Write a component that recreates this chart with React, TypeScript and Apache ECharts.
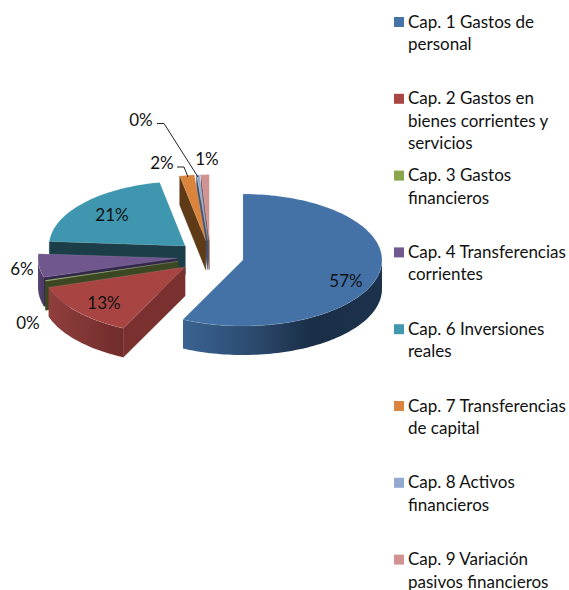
import React, { useEffect, useRef } from "react";
import * as echarts from "echarts";

const categories = [
  "Cap. 1 Gastos de\npersonal",
  "Cap. 2 Gastos en\nbienes corrientes y\nservicios",
  "Cap. 3 Gastos\nfinancieros",
  "Cap. 4 Transferencias\ncorrientes",
  "Cap. 6 Inversiones\nreales",
  "Cap. 7 Transferencias\nde capital",
  "Cap. 8 Activos\nfinancieros",
  "Cap. 9 Variación\npasivos financieros",
];
const shares = [57.1, 13.0, 0.25, 5.75, 20.9, 1.7, 0.35, 0.95];

const topColors = ["#4472a7", "#a84543", "#89a54e", "#70588f", "#3f97af", "#db843d", "#93a9cf", "#d19392"];
const legendColors = ["#4572a7", "#aa4643", "#89a54e", "#71588f", "#4198af", "#db843d", "#93a9cf", "#d19392"];
const wallColors = ["#1b2f47", "#7a302f", "#3c4822", "#33274a", "#1b3e49", "#5e3a17", "#46536e", "#7a5554"];
const sideStops: [number, string][][] = [
  [[0, "#3a6492"], [0.35, "#2c4a6e"], [0.65, "#1a2e46"], [1, "#1c324c"]],
  [[0, "#8f3f3d"], [1, "#702c2b"]],
  [[0, "#4c5c2a"], [1, "#3c4822"]],
  [[0, "#5a4676"], [1, "#46355f"]],
  [[0, "#1b3e49"], [1, "#1b3e49"]],
  [[0, "#5e3a17"], [1, "#5e3a17"]],
  [[0, "#46536e"], [1, "#46536e"]],
  [[0, "#7a5554"], [1, "#7a5554"]],
];
// perspective makes near slices look slightly larger than far ones
const radiusScale = [1, 1.03, 1, 1, 0.98, 1, 1, 1];
const labelSpots: [number, number][] = [
  [346, 280], [104, 302], [28, 322], [22, 268], [112, 214], [162, 162], [141, 119], [207, 158],
];
const leaders: Record<number, [number, number][]> = {
  5: [[177, 167], [184, 167], [188, 177]],
  6: [[157, 123.5], [164, 123.5], [198, 177]],
};

const CX = 210.3, CY = 256.5, RX = 139, RY = 66, DEPTH = 29, EXPLODE = 0.241;
const FONT = "Lato, Carlito, sans-serif";
const rad = (d: number) => (d * Math.PI) / 180;

const total = shares.reduce((a, b) => a + b, 0);
const startAngles: number[] = [];
shares.reduce((acc, v, i) => {
  startAngles[i] = acc;
  return acc + (v / total) * 360;
}, 0);

function arcPoints(ax: number, ay: number, from: number, to: number, k: number, dy = 0) {
  const pts: number[][] = [];
  const n = Math.max(2, Math.ceil((to - from) / 1.5));
  for (let j = 0; j <= n; j++) {
    const t = rad(from + ((to - from) * j) / n);
    pts.push([ax + k * RX * Math.sin(t), ay - k * RY * Math.cos(t) + dy]);
  }
  return pts;
}

function renderItem(params: any, api: any) {
  const i = params.dataIndex;
  const from = startAngles[i];
  const to = from + (api.value(0) / total) * 360;
  const mid = rad((from + to) / 2);
  const ax = CX + EXPLODE * RX * Math.sin(mid);
  const ay = CY - EXPLODE * RY * Math.cos(mid);
  const k = radiusScale[i];
  const base = (i === 0 ? 9 : 8 - i) * 10;
  const children: any[] = [];

  // radial wall on the starting edge, facing the viewer
  if (from > 180) {
    const s = arcPoints(ax, ay, from, from + 0.001, k)[0];
    children.push({
      type: "polygon",
      z2: base,
      shape: { points: [[ax, ay], s, [s[0], s[1] + DEPTH], [ax, ay + DEPTH]] },
      style: { fill: wallColors[i], stroke: wallColors[i], lineWidth: 0.5 },
    });
  }
  // outer rim, front half only
  const a = Math.max(from, 90), b = Math.min(to, 270);
  if (b > a) {
    const top = arcPoints(ax, ay, a, b, k);
    const bottom = arcPoints(ax, ay, a, b, k, DEPTH).reverse();
    children.push({
      type: "polygon",
      z2: base + 1,
      shape: { points: [...top, ...bottom] },
      style: {
        fill: new echarts.graphic.LinearGradient(
          0, 0, 1, 0,
          sideStops[i].map(([offset, color]) => ({ offset, color }))
        ),
      },
    });
  }
  // top face
  children.push({
    type: "polygon",
    z2: base + 2,
    shape: { points: [[ax, ay], ...arcPoints(ax, ay, from, to, k)] },
    style: { fill: topColors[i], stroke: "rgba(255,255,255,0.18)", lineWidth: 0.6 },
  });
  // leader line
  if (leaders[i]) {
    children.push({
      type: "polyline",
      z2: 200,
      shape: { points: leaders[i] },
      style: { stroke: "#222222", lineWidth: 1, fill: "none" },
    });
  }
  // percentage label
  children.push({
    type: "text",
    z2: 201,
    x: labelSpots[i][0],
    y: labelSpots[i][1],
    style: {
      text: `${Math.round((api.value(0) / total) * 100)}%`,
      font: `17px ${FONT}`,
      fill: "#111111",
      align: "center",
      verticalAlign: "middle",
    },
  });
  return { type: "group", children };
}

export default function App() {
  const ref = useRef<HTMLDivElement>(null);
  useEffect(() => {
    document.body.style.margin = "0";
    const chart = echarts.init(ref.current!, null, { renderer: "svg" });
    const legend: any[] = [];
    categories.forEach((c, i) => {
      const y = 22 + i * 76.8;
      legend.push({
        type: "rect",
        shape: { x: 394, y: y - 5, width: 10, height: 10 },
        style: { fill: legendColors[i] },
      });
      c.split("\n").forEach((line, k) => {
        legend.push({
          type: "text",
          x: 408,
          y: y - 1 + k * 22.4,
          style: { text: line, font: `17px ${FONT}`, fill: "#111111", align: "left", verticalAlign: "middle" },
        });
      });
    });
    chart.setOption({
      animation: false,
      backgroundColor: "#ffffff",
      graphic: legend,
      series: [
        {
          type: "custom",
          coordinateSystem: "none",
          renderItem,
          data: shares.map((v, i) => ({ name: categories[i], value: [v] })),
        },
      ],
    });
    return () => chart.dispose();
  }, []);
  return <div ref={ref} style={{ width: 569, height: 590 }} />;
}
